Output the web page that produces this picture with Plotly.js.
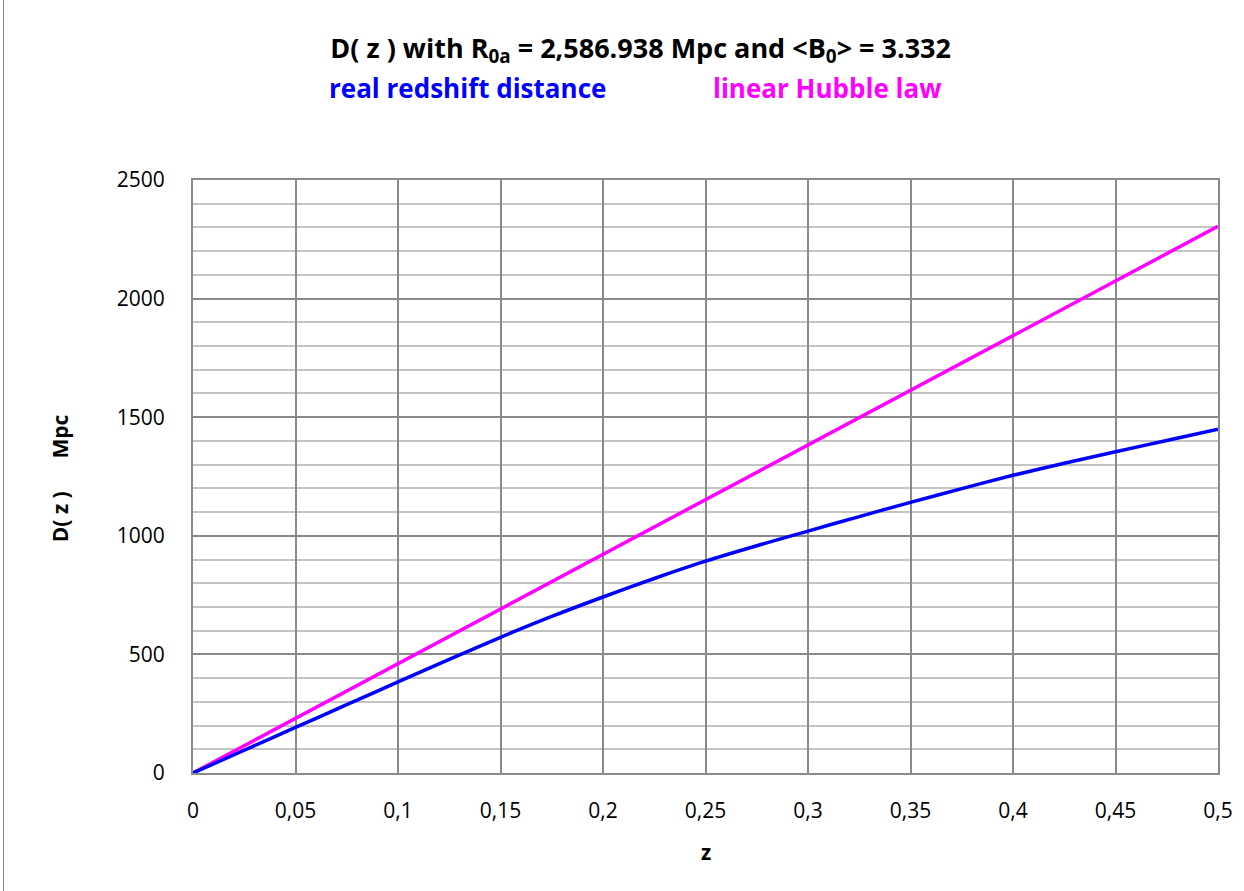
<!DOCTYPE html>
<html>
<head>
<meta charset="utf-8">
<script src="https://cdn.plot.ly/plotly-3.0.1.min.js"></script>
<style>
  html, body { margin: 0; padding: 0; background: #fff; }
  #wrap { position: relative; width: 1244px; height: 891px; }
  #chart { width: 1244px; height: 891px; }
  #frame { position: absolute; left: 3px; top: 0; width: 1px; height: 891px; background: #8c8c8c; pointer-events: none; }
</style>
</head>
<body>
<div id="wrap">
  <div id="chart"></div>
  <div id="frame"></div>
</div>
<script>
// z values (redshift)
const zValues = [0, 0.025, 0.05, 0.075, 0.1, 0.125, 0.15, 0.175, 0.2, 0.225, 0.25,
                 0.275, 0.3, 0.325, 0.35, 0.375, 0.4, 0.425, 0.45, 0.475, 0.5];
// real redshift distance D(z) in Mpc
const realDistance = [0, 96, 192, 288, 384, 479, 572, 660, 742, 820, 893,
                      958, 1020, 1081, 1141, 1199, 1255, 1306, 1354, 1402, 1449];
// linear Hubble law D(z) in Mpc
const hubbleZ = [0, 0.05, 0.1, 0.15, 0.2, 0.25, 0.3, 0.35, 0.4, 0.45, 0.5];
const hubbleDistance = [0, 230, 461, 691, 922, 1152, 1383, 1613, 1844, 2074, 2305];

const xTicks = [0, 0.05, 0.1, 0.15, 0.2, 0.25, 0.3, 0.35, 0.4, 0.45, 0.5];
const yTicks = [0, 500, 1000, 1500, 2000, 2500];

const FONT = "'Open Sans', sans-serif";

const traces = [
  {
    x: hubbleZ, y: hubbleDistance, type: 'scatter', mode: 'lines',
    name: 'linear Hubble law',
    line: { color: '#FF00FF', width: 3.5 }
  },
  {
    x: zValues, y: realDistance, type: 'scatter', mode: 'lines',
    name: 'real redshift distance',
    line: { color: '#0000FF', width: 3.5, shape: 'spline', smoothing: 0.8 }
  }
];

const layout = {
  width: 1244, height: 891,
  margin: { l: 193, r: 26, t: 180, b: 118 },
  paper_bgcolor: '#ffffff', plot_bgcolor: '#ffffff',
  separators: ', ',
  showlegend: false,
  font: { family: FONT, size: 20, color: '#000' },
  title: {
    text: '<b>D( z ) with R<sub>0a</sub> = 2,586.938 Mpc and &lt;B<sub>0</sub>&gt; = 3.332</b>',
    font: { family: FONT, size: 27, color: '#000' },
    x: 0.515, xanchor: 'center', y: 0.946, yanchor: 'middle'
  },
  annotations: [
    { text: '<b>real redshift distance</b>', xref: 'paper', yref: 'paper',
      x: 0.1307, y: 1.155, xanchor: 'left', yanchor: 'middle', showarrow: false,
      font: { family: FONT, size: 26, color: '#0000FF' } },
    { text: '<b>linear Hubble law</b>', xref: 'paper', yref: 'paper',
      x: 0.5054, y: 1.155, xanchor: 'left', yanchor: 'middle', showarrow: false,
      font: { family: FONT, size: 26, color: '#FF00FF' } },
    { text: '<b>z</b>', xref: 'paper', yref: 'paper',
      x: 0.5, y: -0.133, xanchor: 'center', yanchor: 'middle', showarrow: false,
      font: { family: FONT, size: 21, color: '#000' } },
    { text: '<b>D( z )&nbsp;&nbsp;&nbsp;&nbsp;&nbsp; Mpc</b>', xref: 'paper', yref: 'paper',
      x: -0.1298, y: 0.497, xanchor: 'center', yanchor: 'middle', showarrow: false,
      textangle: -90,
      font: { family: FONT, size: 21, color: '#000' } }
  ],
  xaxis: {
    range: [0, 0.5], tickvals: xTicks, tickformat: '.2~f',
    showgrid: true, gridcolor: '#8a8a8a', gridwidth: 2,
    showline: true, linecolor: '#8a8a8a', linewidth: 2, mirror: true,
    zeroline: false, ticks: 'outside', ticklen: 18, tickcolor: 'rgba(0,0,0,0)',
    tickfont: { family: FONT, size: 21, color: '#000' }
  },
  yaxis: {
    range: [0, 2500], tickvals: yTicks,
    showgrid: true, gridcolor: '#8a8a8a', gridwidth: 2,
    minor: { dtick: 100, showgrid: true, gridcolor: '#c4c4c4', gridwidth: 2, ticks: '' },
    showline: true, linecolor: '#8a8a8a', linewidth: 2, mirror: true,
    zeroline: false, ticks: 'outside', ticklen: 22, tickcolor: 'rgba(0,0,0,0)',
    tickfont: { family: FONT, size: 21, color: '#000' }
  }
};

Plotly.newPlot('chart', traces, layout, { displayModeBar: false, staticPlot: true });
</script>
</body>
</html>
